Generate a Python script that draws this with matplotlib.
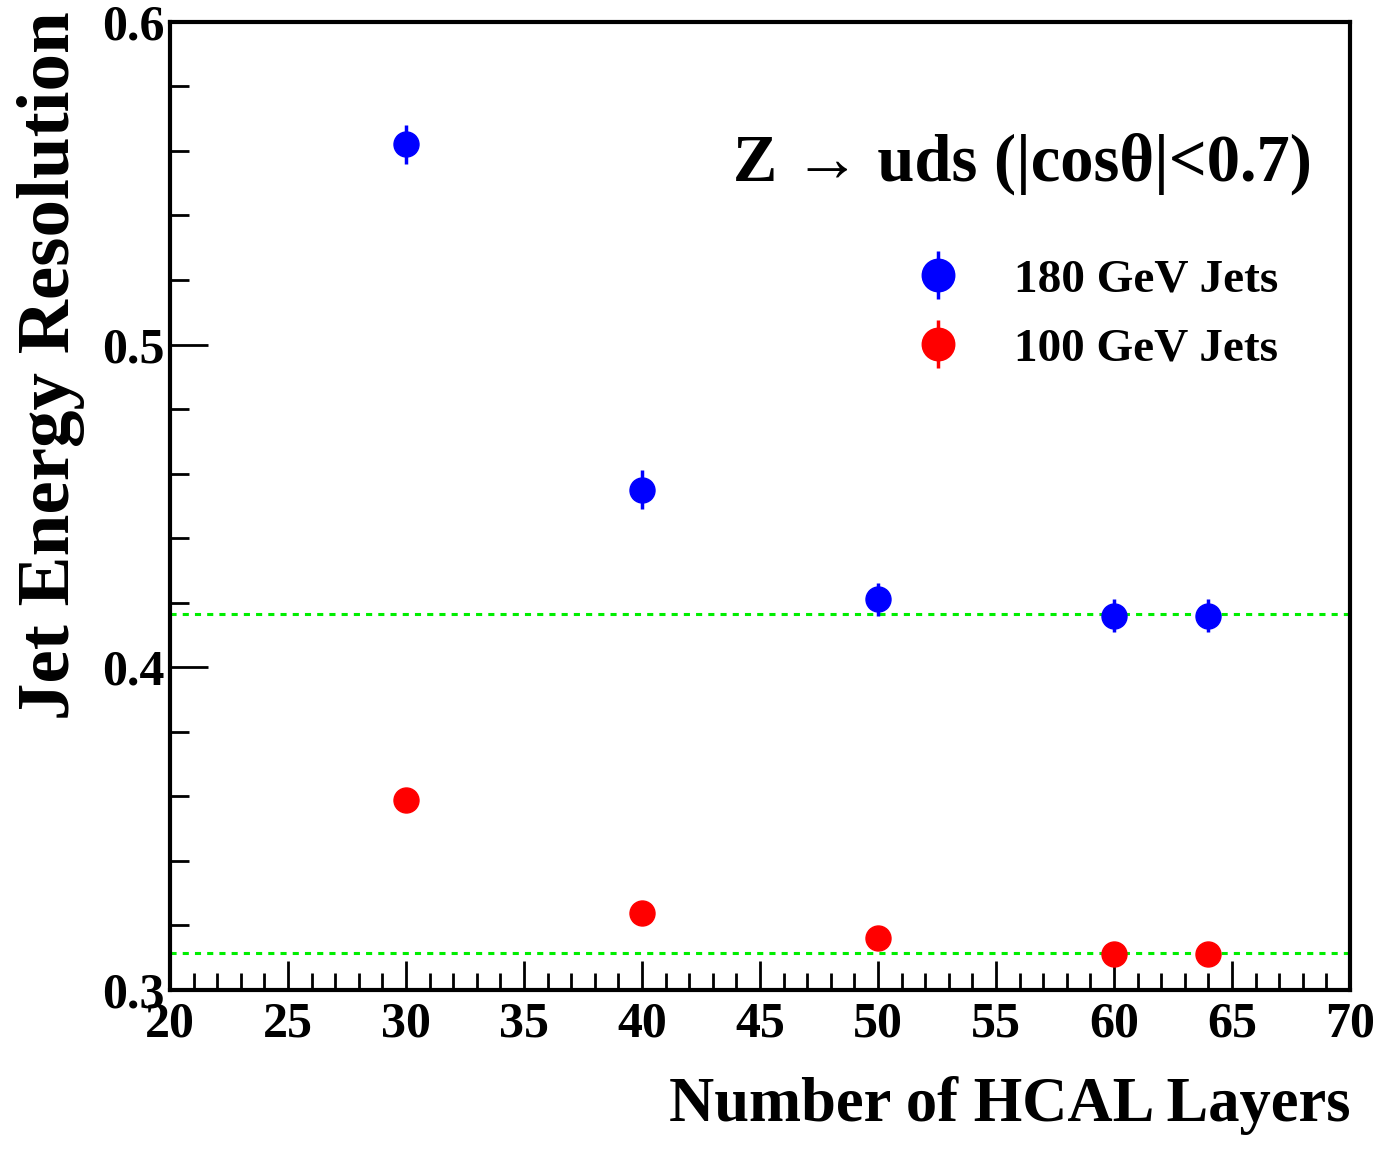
import numpy as np
import matplotlib.pyplot as plt
from matplotlib.ticker import MultipleLocator

plt.rcParams['font.family'] = ['Liberation Serif', 'DejaVu Serif']
plt.rcParams['font.weight'] = 'bold'

# data
layers = [30, 40, 50, 60, 64]
res_180 = [0.562, 0.455, 0.421, 0.416, 0.416]
err_180 = [0.006, 0.006, 0.005, 0.005, 0.005]
res_100 = [0.359, 0.324, 0.316, 0.311, 0.311]
err_100 = [0.003, 0.003, 0.003, 0.003, 0.003]
ref_lines = [0.4165, 0.3115]

fig = plt.figure(figsize=(13.79, 11.49), dpi=100)
ax = fig.add_axes([0.1233, 0.1384, 0.9790 - 0.1233, 0.981 - 0.1384])

for yv in ref_lines:
    ax.axhline(yv, color='#00ee00', ls=(0, (2, 2)), lw=2.2, zorder=1)

ax.errorbar(layers, res_180, yerr=err_180, fmt='o', color='blue', ms=18,
            elinewidth=2.5, capsize=0, zorder=3, label='180 GeV Jets')
ax.errorbar(layers, res_100, yerr=err_100, fmt='o', color='red', ms=18,
            elinewidth=2.5, capsize=0, zorder=3, label='100 GeV Jets')

ax.set_xlim(20, 70)
ax.set_ylim(0.3, 0.6)
ax.xaxis.set_major_locator(MultipleLocator(5))
ax.xaxis.set_minor_locator(MultipleLocator(1))
ax.yaxis.set_major_locator(MultipleLocator(0.1))
ax.yaxis.set_minor_locator(MultipleLocator(0.02))
ax.tick_params(which='both', direction='in', top=False, right=False, width=2)
ax.tick_params(axis='x', which='major', length=21, labelsize=36, pad=8)
ax.tick_params(axis='x', which='minor', length=12)
ax.tick_params(axis='y', which='major', length=27, labelsize=36, pad=4)
ax.tick_params(axis='y', which='minor', length=14)
ax.set_yticks([0.3, 0.4, 0.5, 0.6])
ax.set_yticklabels(['0.3', '0.4', '0.5', '0.6'])
for sp in ax.spines.values():
    sp.set_linewidth(3)

fig.text(0.979, 0.012, 'Number of HCAL Layers', ha='right', va='bottom',
         fontsize=45, fontweight='bold')
fig.text(0.012, 0.99, 'Jet Energy Resolution', ha='left', va='top',
         rotation=90, fontsize=54, fontweight='bold')

ax.text(0.968, 0.853, 'Z \u2192 uds (|cos\u03b8|<0.7)', transform=ax.transAxes,
        ha='right', va='center', fontsize=48, fontweight='bold')

leg = ax.legend(loc='upper right', bbox_to_anchor=(0.955, 0.775), frameon=False,
                fontsize=34, handletextpad=0.6, labelspacing=0.55,
                borderaxespad=0, markerscale=1.3)

fig.savefig('out.png', dpi=100)
